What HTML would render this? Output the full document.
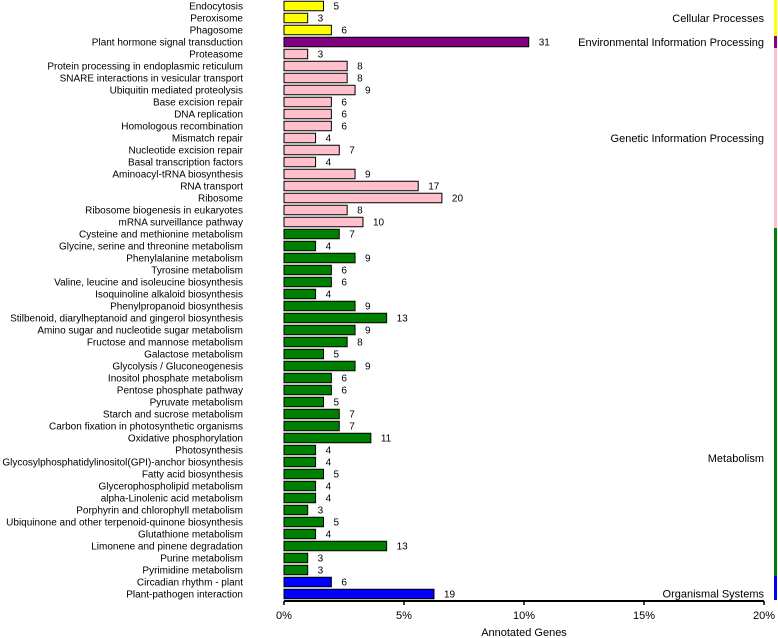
<!DOCTYPE html>
<html><head><meta charset="utf-8"><style>
body{margin:0;background:#fff;}
svg{display:block;font-family:"Liberation Sans",Arial,sans-serif;}
</style></head><body>
<svg id="chart" width="778" height="638"></svg>
<script>
const categories=["Endocytosis","Peroxisome","Phagosome","Plant hormone signal transduction","Proteasome","Protein processing in endoplasmic reticulum","SNARE interactions in vesicular transport","Ubiquitin mediated proteolysis","Base excision repair","DNA replication","Homologous recombination","Mismatch repair","Nucleotide excision repair","Basal transcription factors","Aminoacyl-tRNA biosynthesis","RNA transport","Ribosome","Ribosome biogenesis in eukaryotes","mRNA surveillance pathway","Cysteine and methionine metabolism","Glycine, serine and threonine metabolism","Phenylalanine metabolism","Tyrosine metabolism","Valine, leucine and isoleucine biosynthesis","Isoquinoline alkaloid biosynthesis","Phenylpropanoid biosynthesis","Stilbenoid, diarylheptanoid and gingerol biosynthesis","Amino sugar and nucleotide sugar metabolism","Fructose and mannose metabolism","Galactose metabolism","Glycolysis / Gluconeogenesis","Inositol phosphate metabolism","Pentose phosphate pathway","Pyruvate metabolism","Starch and sucrose metabolism","Carbon fixation in photosynthetic organisms","Oxidative phosphorylation","Photosynthesis","Glycosylphosphatidylinositol(GPI)-anchor biosynthesis","Fatty acid biosynthesis","Glycerophospholipid metabolism","alpha-Linolenic acid metabolism","Porphyrin and chlorophyll metabolism","Ubiquinone and other terpenoid-quinone biosynthesis","Glutathione metabolism","Limonene and pinene degradation","Purine metabolism","Pyrimidine metabolism","Circadian rhythm - plant","Plant-pathogen interaction"];
const counts=[5,3,6,31,3,8,8,9,6,6,6,4,7,4,9,17,20,8,10,7,4,9,6,6,4,9,13,9,8,5,9,6,6,5,7,7,11,4,4,5,4,4,3,5,4,13,3,3,6,19];
const groupNames=["Cellular Processes","Environmental Information Processing","Genetic Information Processing","Metabolism","Organismal Systems"];
const groupStart=[0,3,4,19,48];
const groupEnd=[2,3,18,47,49];
const groupColors=["#ffff00","#800080","#ffc0cb","#008000","#0000ff"];
const totalGenes=304;
const tickValues=[0,5,10,15,20];
const tickLabels=["0%","5%","10%","15%","20%"];

const NS="http://www.w3.org/2000/svg";
const svg=document.getElementById("chart");
const x0=284,pxPerPct=24,y0=6,step=12,barH=9.5,axisY=601;
const xs=p=>x0+p*pxPerPct;
const ys=i=>y0+i*step;
function mk(tag,attrs,parent){const e=document.createElementNS(NS,tag);for(const k in attrs)e.setAttribute(k,attrs[k]);(parent||svg).appendChild(e);return e;}
function groupOf(i){for(let g=0;g<groupStart.length;g++)if(i>=groupStart[g]&&i<=groupEnd[g])return g;return 0;}

categories.forEach((c,i)=>{
  const g=groupOf(i);
  const pct=counts[i]/totalGenes*100;
  const lab=mk("text",{x:243,y:ys(i)+3.6,"text-anchor":"end","font-size":"10",fill:"#000"});
  lab.textContent=c;
  
  
  const r=mk("rect",{x:x0,y:ys(i)-barH/2,width:xs(pct)-x0,height:barH,fill:groupColors[g],stroke:"#000","stroke-width":"1"});
  
  
  const v=mk("text",{x:xs(pct)+10,y:ys(i)+3.6,"font-size":"10",fill:"#000"});
  v.textContent=counts[i];
  
  
});

const labelOffset=[4,4,4,60,0];
groupNames.forEach((n,g)=>{
  const top=ys(groupStart[g])-step/2, bot=ys(groupEnd[g])+step/2;
  const sb=mk("rect",{x:774,y:top,width:3,height:bot-top,fill:groupColors[g]});
  
  
  const mid=(top+bot)/2;
  const ty=(g===4)?ys(groupEnd[g])+3.5:mid+labelOffset[g];
  const t=mk("text",{x:764,y:ty,"text-anchor":"end","font-size":"11",fill:"#000"});
  t.textContent=n;
  
  
});

const ax=mk("line",{x1:x0,y1:axisY,x2:xs(20),y2:axisY,stroke:"#000","stroke-width":"2"});


tickValues.forEach((t,k)=>{
  const tk=mk("line",{x1:xs(t),y1:axisY,x2:xs(t),y2:axisY+4,stroke:"#000","stroke-width":"1.5"});
  
  
  const tl=mk("text",{x:xs(t),y:axisY+18,"text-anchor":"middle","font-size":"11",fill:"#000"});
  tl.textContent=tickLabels[k];
  
  
});
const title=mk("text",{x:xs(10),y:636,"text-anchor":"middle","font-size":"11",fill:"#000"});
title.textContent="Annotated Genes";


</script>
</body></html>
